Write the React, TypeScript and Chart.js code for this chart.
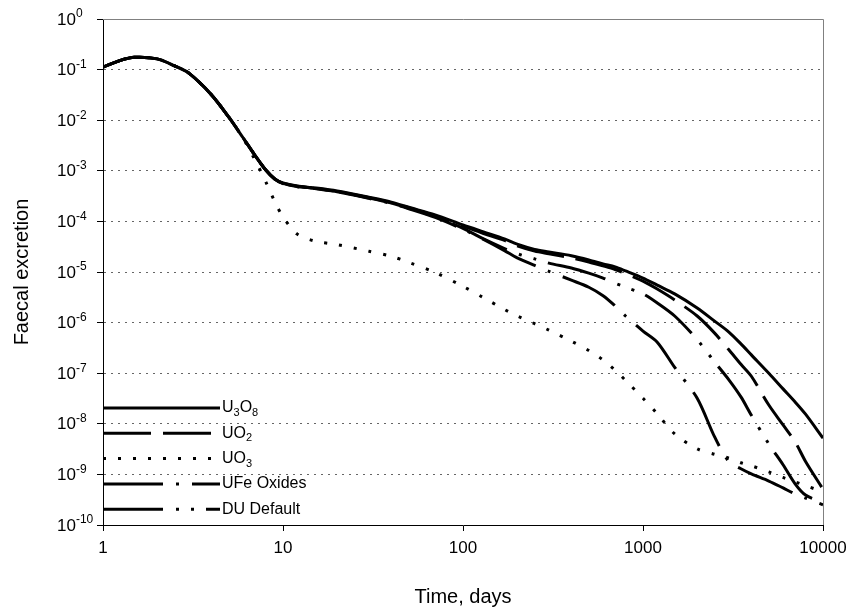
import React, { useEffect, useRef } from 'react';
import { Chart, registerables } from 'chart.js';

Chart.register(...registerables);

const days = [1, 1.25, 1.5, 2, 2.5, 3, 4, 5, 6, 7, 8, 9, 10, 12, 15, 20, 30, 40, 50, 70, 100, 130, 170, 200, 250, 300, 400, 500, 600, 700, 800, 1000, 1200, 1500, 2000, 2500, 3000, 3500, 4000, 5000, 6000, 7000, 8000, 10000];

const u3o8 = [1.12e-1, 1.52e-1, 1.75e-1, 1.63e-1, 1.18e-1, 8.5e-2, 3.2e-2, 1.15e-2, 4.5e-3, 2.0e-3, 1.05e-3, 6.9e-4, 5.75e-4, 5.0e-4, 4.6e-4, 4.0e-4, 3.0e-4, 2.4e-4, 1.9e-4, 1.35e-4, 8.5e-5, 6.2e-5, 4.5e-5, 3.55e-5, 2.8e-5, 2.5e-5, 2.1e-5, 1.74e-5, 1.45e-5, 1.26e-5, 1.05e-5, 7.6e-6, 5.5e-6, 3.7e-6, 1.95e-6, 1.07e-6, 6.5e-7, 3.8e-7, 2.3e-7, 1.0e-7, 4.9e-8, 2.7e-8, 1.55e-8, 5.2e-9];

const uo2 = [1.12e-1, 1.52e-1, 1.75e-1, 1.63e-1, 1.18e-1, 8.5e-2, 3.2e-2, 1.15e-2, 4.5e-3, 2.0e-3, 1.05e-3, 6.9e-4, 5.75e-4, 4.95e-4, 4.5e-4, 3.9e-4, 2.95e-4, 2.35e-4, 1.86e-4, 1.29e-4, 8.1e-5, 5.75e-5, 4.2e-5, 3.3e-5, 2.6e-5, 2.3e-5, 1.9e-5, 1.58e-5, 1.32e-5, 1.12e-5, 9.3e-6, 6.6e-6, 4.6e-6, 2.8e-6, 1.35e-6, 6.2e-7, 2.9e-7, 1.5e-7, 8.7e-8, 2.35e-8, 9.5e-9, 4.4e-9, 1.8e-9, 5.1e-10];

const uo3 = [1.12e-1, 1.52e-1, 1.75e-1, 1.63e-1, 1.18e-1, 8.5e-2, 3.2e-2, 1.15e-2, 4.4e-3, 1.62e-3, 6.2e-4, 2.45e-4, 1.23e-4, 5.6e-5, 4.1e-5, 3.47e-5, 2.57e-5, 2.04e-5, 1.55e-5, 9.8e-6, 5.2e-6, 3.1e-6, 1.82e-6, 1.35e-6, 9.5e-7, 7.1e-7, 4.3e-7, 2.8e-7, 1.82e-7, 1.15e-7, 7.2e-8, 3.2e-8, 1.58e-8, 6.3e-9, 3.2e-9, 2.5e-9, 2.1e-9, 1.7e-9, 1.48e-9, 1.12e-9, 8.7e-10, 7.1e-10, 6.0e-10, 4.5e-10];

const ufeOxides = [1.12e-1, 1.52e-1, 1.75e-1, 1.63e-1, 1.18e-1, 8.5e-2, 3.2e-2, 1.15e-2, 4.5e-3, 2.0e-3, 1.05e-3, 6.9e-4, 5.6e-4, 4.85e-4, 4.45e-4, 3.85e-4, 2.85e-4, 2.25e-4, 1.78e-4, 1.2e-4, 7.0e-5, 4.4e-5, 2.65e-5, 1.9e-5, 1.35e-5, 1.03e-5, 6.9e-6, 5.0e-6, 3.4e-6, 2.14e-6, 1.35e-6, 6.8e-7, 4.1e-7, 1.3e-7, 3.2e-8, 5.5e-9, 1.78e-9, 1.29e-9, 1.02e-9, 7.4e-10, 5.4e-10, 4.1e-10, 3.4e-10, 2.5e-10];

const duDefault = [1.12e-1, 1.52e-1, 1.75e-1, 1.63e-1, 1.18e-1, 8.5e-2, 3.2e-2, 1.15e-2, 4.5e-3, 2.0e-3, 1.05e-3, 6.9e-4, 5.65e-4, 4.9e-4, 4.5e-4, 3.9e-4, 2.9e-4, 2.3e-4, 1.82e-4, 1.22e-4, 7.3e-5, 4.5e-5, 2.9e-5, 2.3e-5, 1.82e-5, 1.5e-5, 1.2e-5, 9.5e-6, 7.6e-6, 6.0e-6, 5.0e-6, 3.7e-6, 2.45e-6, 1.35e-6, 4.6e-7, 1.66e-7, 7.4e-8, 3.4e-8, 1.48e-8, 4.0e-9, 1.55e-9, 6.5e-10, 3.9e-10, 2.8e-10];

const xTickValues = [1, 10, 100, 1000, 10000];
const yExponents = [0, -1, -2, -3, -4, -5, -6, -7, -8, -9, -10];

// legend label parts: [text, isSubscript]
const legendLabels: [string, boolean][][] = [
  [['U', false], ['3', true], ['O', false], ['8', true]],
  [['UO', false], ['2', true]],
  [['UO', false], ['3', true]],
  [['UFe Oxides', false]],
  [['DU Default', false]],
];

const FONT = '"Liberation Sans", Arial, Helvetica, sans-serif';

const DASHES: number[][] = [
  [],
  [48, 12],
  [3, 12],
  [60, 13, 3, 13],
  [60, 13, 3, 12, 3, 12],
];

const seriesValues = [u3o8, uo2, uo3, ufeOxides, duDefault];

const overlayPlugin = {
  id: 'overlay',
  afterDraw(chart: any) {
    const { ctx, chartArea } = chart;
    const yScale = chart.scales.y;
    ctx.save();
    // plot frame top/right
    ctx.strokeStyle = '#808080';
    ctx.lineWidth = 1;
    ctx.setLineDash([]);
    ctx.beginPath();
    ctx.moveTo(chartArea.left, chartArea.top + 0.5);
    ctx.lineTo(chartArea.right + 0.5, chartArea.top + 0.5);
    ctx.lineTo(chartArea.right + 0.5, chartArea.bottom);
    ctx.stroke();

    // y tick labels with superscripts
    ctx.fillStyle = '#000';
    ctx.textBaseline = 'middle';
    ctx.textAlign = 'left';
    yExponents.forEach((e) => {
      const y = yScale.getPixelForValue(Math.pow(10, e));
      ctx.font = `17px ${FONT}`;
      ctx.fillText('10', 57, y + 1);
      const w = ctx.measureText('10').width;
      ctx.font = `12px ${FONT}`;
      ctx.fillText(String(e), 57 + w, y - 5);
    });

    // legend
    const left = chartArea.left;
    legendLabels.forEach((parts, i) => {
      const y = chartArea.top + 389 + i * 25.3;
      ctx.strokeStyle = '#000';
      ctx.lineWidth = 3;
      ctx.lineCap = 'butt';
      ctx.setLineDash(DASHES[i]);
      ctx.beginPath();
      ctx.moveTo(left, y);
      ctx.lineTo(left + 117, y);
      ctx.stroke();
      ctx.setLineDash([]);
      let x = left + 119;
      parts.forEach(([t, sub]) => {
        ctx.font = sub ? `11px ${FONT}` : `16px ${FONT}`;
        ctx.fillText(t, x, sub ? y + 5 : y);
        x += ctx.measureText(t).width;
      });
    });
    ctx.restore();
  },
};

export default function App() {
  const ref = useRef<HTMLCanvasElement | null>(null);

  useEffect(() => {
    document.body.style.margin = '0';
    const canvas = ref.current;
    if (!canvas) return;
    const datasets = seriesValues.map((vals, i) => ({
      label: legendLabels[i].map((p) => p[0]).join(''),
      data: days.map((d, j) => ({ x: d, y: vals[j] })),
      borderColor: '#000',
      backgroundColor: '#000',
      borderWidth: 3,
      borderDash: DASHES[i],
      borderCapStyle: 'butt',
      pointRadius: 0,
      fill: false,
      tension: 0.3,
    }));

    const chart = new Chart(canvas, {
      type: 'line',
      data: { datasets } as any,
      options: {
        animation: false,
        responsive: false,
        maintainAspectRatio: false,
        layout: { padding: { left: 0, right: 31, top: 19, bottom: 0 } },
        plugins: { legend: { display: false }, tooltip: { enabled: false } },
        scales: {
          x: {
            type: 'logarithmic',
            min: 1,
            max: 10000,
            afterBuildTicks: (s: any) => {
              s.ticks = xTickValues.map((v) => ({ value: v }));
            },
            afterFit: (s: any) => {
              s.height = 87;
            },
            grid: { drawOnChartArea: false, drawTicks: true, tickLength: 6, tickColor: '#000', tickWidth: 1 },
            border: { display: true, color: '#000', width: 1 },
            ticks: {
              color: '#000',
              font: { family: FONT, size: 17 },
              padding: 7,
              maxRotation: 0,
              autoSkip: false,
              callback: (v: any) => String(v),
            },
            title: {
              display: true,
              text: 'Time, days',
              color: '#000',
              font: { family: FONT, size: 20 },
              padding: { top: 0, bottom: 3 },
            },
          },
          y: {
            type: 'logarithmic',
            min: 1e-10,
            max: 1,
            afterBuildTicks: (s: any) => {
              s.ticks = yExponents.map((e) => ({ value: Math.pow(10, e) }));
            },
            afterFit: (s: any) => {
              s.width = 103;
            },
            grid: {
              color: (c: any) => {
                const v = c.tick ? c.tick.value : 0;
                return v >= 0.99 || v <= 1.01e-10 ? 'rgba(0,0,0,0)' : '#666';
              },
              lineWidth: 1,
              drawTicks: true,
              tickLength: 6,
              tickColor: '#000',
            },
            border: { display: true, color: '#000', width: 1, dash: [2, 5] },
            ticks: { display: false },
            title: {
              display: true,
              text: 'Faecal excretion',
              color: '#000',
              font: { family: FONT, size: 20 },
              padding: { top: 10, bottom: 0 },
            },
          },
        },
      } as any,
      plugins: [overlayPlugin],
    });
    return () => chart.destroy();
  }, []);

  return (
    <div style={{ width: 854, height: 612 }}>
      <canvas ref={ref} width={854} height={612} style={{ display: 'block' }} />
    </div>
  );
}
